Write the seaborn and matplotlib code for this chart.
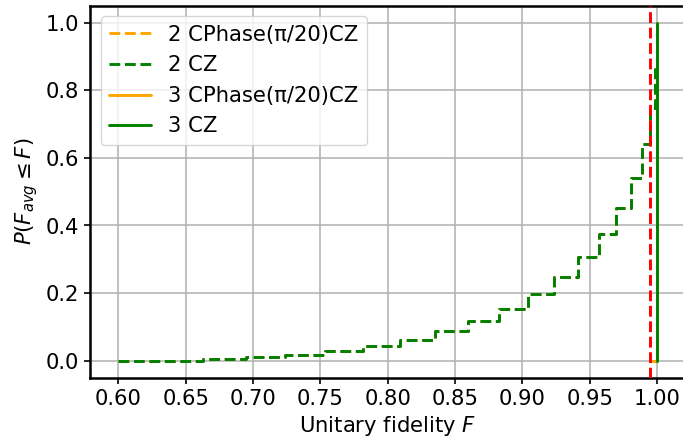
import matplotlib
matplotlib.use("Agg")
import matplotlib.pyplot as plt
import seaborn as sns
import numpy as np
import pandas as pd

# Empirical CDF of the average unitary fidelity (step points)
fid_2 = [0.600, 0.6628, 0.6950, 0.7235, 0.7532, 0.7817, 0.8090, 0.8350, 0.8597,
         0.8827, 0.9042, 0.9233, 0.9413, 0.9567, 0.9693, 0.9805, 0.9889, 0.9951,
         0.9983, 1.000]
cdf_2 = [0.000, 0.006, 0.010, 0.016, 0.028, 0.0426, 0.061, 0.087, 0.1175,
         0.153, 0.196, 0.2485, 0.3077, 0.3749, 0.4527, 0.5396, 0.640, 0.7467,
         0.870, 1.000]

fid_3_cphase = [0.9960, 1.000]
cdf_3_cphase = [0.000, 1.000]
fid_3_cz = [0.9999, 1.000]
cdf_3_cz = [0.000, 1.000]

threshold = 0.995

labels = ["2 CPhase(π/20)CZ", "2 CZ", "3 CPhase(π/20)CZ", "3 CZ"]
colors = ["orange", "green", "orange", "green"]
styles = ["--", "--", "-", "-"]

FS = 15.2

sns.set_style("ticks", {"axes.grid": True, "grid.color": "#b0b0b0",
                        "axes.edgecolor": "black", "xtick.color": "black",
                        "ytick.color": "black", "axes.labelcolor": "black",
                        "text.color": "black"})
plt.rcParams["font.family"] = ["DejaVu Sans"]
plt.rcParams["font.size"] = FS
plt.rcParams["mathtext.fontset"] = "dejavusans"

fig = plt.figure(figsize=(6.83, 4.43), dpi=100)
W, H = 683, 443
x_lo, x_hi = 0.5789, 1.0215
ax_left, ax_top, ax_bottom = 90, 5.8, 377.6
ax_right = ax_left + (x_hi - x_lo) * 1346.5
ax = fig.add_axes([ax_left / W, 1 - ax_bottom / H,
                   (ax_right - ax_left) / W, (ax_bottom - ax_top) / H])

series = [(fid_2, cdf_2), (fid_2, cdf_2), (fid_3_cphase, cdf_3_cphase), (fid_3_cz, cdf_3_cz)]
for (fx, fy), lab, col, ls in zip(series, labels, colors, styles):
    df = pd.DataFrame({"F": fx, "P": fy})
    sns.lineplot(data=df, x="F", y="P", ax=ax, drawstyle="steps-post",
                 color=col, linestyle=ls, linewidth=2.1, label=lab,
                 estimator=None, sort=True)

ax.axvline(threshold, color="red", linestyle="--", linewidth=2.1, zorder=5)

ax.set_xlim(x_lo, x_hi)
ax.set_ylim(-0.05, 1.05)
ax.set_xticks(np.arange(0.60, 1.001, 0.05))
ax.set_xticklabels([f"{t:.2f}" for t in np.arange(0.60, 1.001, 0.05)])
ax.set_yticks(np.arange(0.0, 1.01, 0.2))
ax.set_yticklabels([f"{t:.1f}" for t in np.arange(0.0, 1.01, 0.2)])
ax.tick_params(axis="both", labelsize=FS, length=4.5, width=1.2, direction="out")
for sp in ax.spines.values():
    sp.set_linewidth(1.8)
    sp.set_color("black")
ax.spines["right"].set_visible(False)
ax.grid(True, color="#b0b0b0", linewidth=1.1)

ax.set_xlabel("Unitary fidelity $F$", fontsize=FS)
ax.set_ylabel(r"$P(F_{avg} \leq F)$", fontsize=FS)

leg = ax.legend(loc="upper left", fontsize=FS, frameon=True, fancybox=True,
                framealpha=0.8, edgecolor="#cccccc")

fig.savefig("out.png", dpi=100)
